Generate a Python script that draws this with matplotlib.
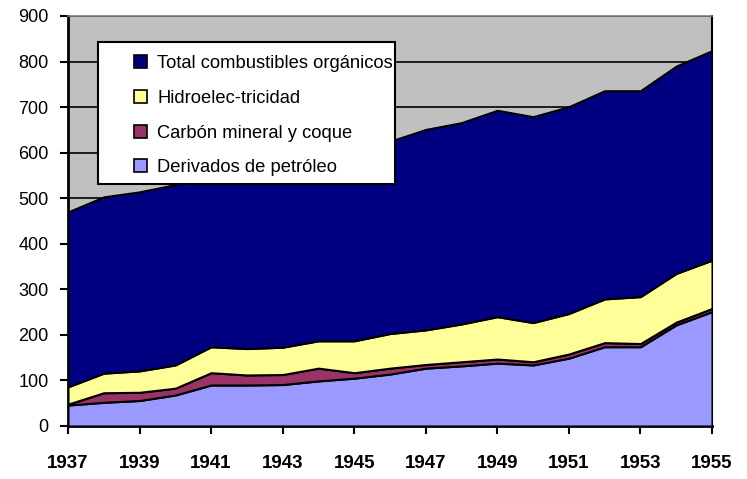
import matplotlib
matplotlib.use("Agg")
import matplotlib.pyplot as plt
from matplotlib.patches import Rectangle

years = list(range(1937, 1956))
derivados = [46, 52, 56, 68, 90, 90, 91, 99, 105, 114, 127, 132, 138, 134, 149, 174, 174, 222, 251]
carbon = [2, 21, 18, 15, 27, 22, 22, 28, 12, 13, 8, 9, 9, 7, 9, 9, 7, 6, 7]
hidro = [38, 43, 47, 51, 57, 58, 60, 60, 70, 76, 76, 83, 93, 86, 89, 96, 103, 107, 106]
total_org = [384, 387, 393, 396, 371, 390, 402, 403, 418, 422, 440, 442, 453, 452, 454, 457, 452, 455, 460]

labels = ["Derivados de petróleo", "Carbón mineral y coque", "Hidroelec-tricidad",
          "Total combustibles orgánicos"]
colors = ["#9999FF", "#993366", "#FFFF99", "#000080"]
x_ticks = list(range(1937, 1956, 2))
y_ticks = list(range(0, 901, 100))

plt.rcParams['font.family'] = ['Liberation Sans', 'DejaVu Sans']

W, H = 747, 479
fig = plt.figure(figsize=(W / 100, H / 100), dpi=100)
ax = fig.add_axes([68 / W, 1 - 426 / H, 644 / W, 410 / H])
ax.set_facecolor("#C0C0C0")

ax.stackplot(years, derivados, carbon, hidro, total_org,
             colors=colors, labels=labels,
             edgecolor="black", linewidth=1.5, zorder=3)

ax.set_xlim(1937, 1955)
ax.set_ylim(0, 900)
ax.set_xticks(x_ticks)
ax.set_yticks(y_ticks)
ax.grid(axis="y", color="black", linewidth=1.2, zorder=1)
ax.set_axisbelow(True)

ax.tick_params(axis="y", direction="out", length=6, width=1.5, pad=8, labelsize=13)
ax.tick_params(axis="x", direction="out", length=6, width=1.5, pad=15, labelsize=13.5)
for lab in ax.get_xticklabels():
    lab.set_fontweight("bold")

for side in ["left", "bottom"]:
    ax.spines[side].set_linewidth(2)
    ax.spines[side].set_color("black")
ax.spines["top"].set_color("#808080")
ax.spines["top"].set_linewidth(1.2)
ax.spines["right"].set_color("black")
ax.spines["right"].set_linewidth(1.5)


def ax_x(px):
    return (px - 68) / 644


def ax_y(py):
    return (426 - py) / 410


# legend frame drawn by hand so the padding matches the original box
box = Rectangle((ax_x(98), ax_y(184)), ax_x(395) - ax_x(98), ax_y(42) - ax_y(184),
                transform=ax.transAxes, facecolor="white", edgecolor="black",
                linewidth=1.5, zorder=4)
ax.add_patch(box)

handles, labs = ax.get_legend_handles_labels()
leg = ax.legend(handles[::-1], labs[::-1], loc="upper left",
                bbox_to_anchor=(ax_x(134), ax_y(55)), borderaxespad=0, borderpad=0,
                frameon=False, fontsize=13.2,
                handlelength=0.72, handleheight=0.72, handletextpad=0.55,
                labelspacing=0.97)
leg.set_zorder(5)
for h in leg.legend_handles:
    h.set_edgecolor("black")
    h.set_linewidth(1.2)

fig.savefig("out.png", dpi=100)
